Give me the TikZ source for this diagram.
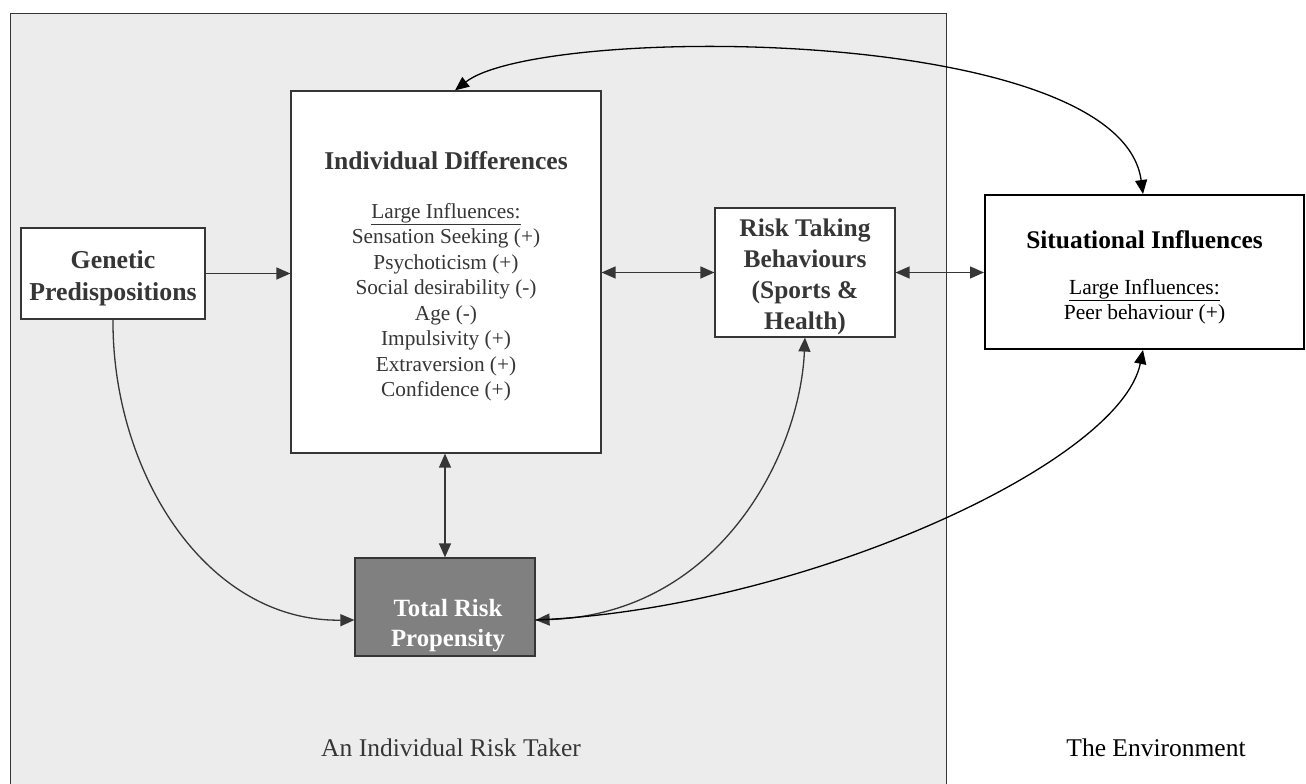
\documentclass[tikz,border=0pt]{standalone}
\usepackage{fontspec}
\setmainfont{Liberation Serif}
\usetikzlibrary{arrows.meta}
\definecolor{inkg}{HTML}{363636}
\definecolor{bgg}{HTML}{ECECEC}
\definecolor{totg}{HTML}{808080}
\tikzset{
  x=1pt,y=1pt,
  box/.style={draw=inkg, line width=1.2pt, fill=white, text=inkg, align=center, inner sep=0pt},
  tip/.style={-{Triangle[length=14pt,width=12pt]}},
  tips/.style={{Triangle[length=14pt,width=12pt]}-{Triangle[length=14pt,width=12pt]}},
  conn/.style={draw=inkg, line width=1.3pt, fill=none},
  label/.style={font=\fontsize{25.5}{30}\selectfont, text=inkg}
}
\begin{document}
\begin{tikzpicture}
\useasboundingbox (0,0) rectangle (1306,784);
\fill[white] (0,0) rectangle (1306,784);
\draw[inkg, line width=1pt, fill=bgg] (10,-5) rectangle (946,770);

\node[box, minimum width=184pt, minimum height=91pt] (gen) at (113,510.5) {};
\node[text=inkg, align=center, font=\fontsize{25.8}{32}\selectfont\bfseries] (genlbl) at (113,506) {Genetic\\Predispositions};

\node[box, minimum width=310pt, minimum height=362pt] (ind) at (446,512) {};
\node[text=inkg, align=center, font=\fontsize{21.3}{25.5}\selectfont] (indlbl) at (446,507.5)
  {{\fontsize{25.6}{30}\selectfont\bfseries Individual Differences}\\[23pt]
   \underline{Large Influences:}\\
   Sensation Seeking (+)\\
   Psychoticism (+)\\
   Social desirability (-)\\
   Age (-)\\
   Impulsivity (+)\\
   Extraversion (+)\\
   Confidence (+)};

\node[box, fill=totg, minimum width=180pt, minimum height=98pt] (tot) at (445,177) {};
\node[text=white, align=center, font=\fontsize{24.8}{30}\selectfont\bfseries] (totlbl) at (448,158) {Total Risk\\Propensity};

\node[box, minimum width=180pt, minimum height=129pt] (rtb) at (805,511.5) {};
\node[text=inkg, align=center, font=\fontsize{25.4}{31}\selectfont\bfseries] (rtblbl) at (805,507.5) {Risk Taking\\Behaviours\\(Sports \&\\Health)};

\node[box, draw=black, line width=2pt, minimum width=319pt, minimum height=154pt] (sit) at (1144.5,512) {};
\node[text=black, align=center, font=\fontsize{21.5}{25}\selectfont] (sitlbl) at (1144.5,507)
  {{\fontsize{25.4}{30}\selectfont\bfseries Situational Influences}\\[21pt]
   \underline{Large Influences:}\\
   Peer behaviour (+)};

\node[label] (lab1) at (451,36) {An Individual Risk Taker};
\node[label, text=black] (lab2) at (1156,36) {The Environment};

% straight connectors
\draw[conn, tip] (gen.east) -- (ind.west |- gen.east);
\draw[conn, tips] (ind.east |- rtb.west) -- (rtb.west);
\draw[conn, tips] (rtb.east) -- (sit.west |- rtb.east);
\draw[conn, tips] (ind.south -| tot.north) -- (tot.north);

% curved connectors
\coordinate (indtop) at ([xshift=9pt]ind.north);
\coordinate (sittop) at ([xshift=-1.5pt]sit.north);
\coordinate (sitbot) at ([xshift=-1.5pt]sit.south);
\coordinate (totr) at ([yshift=-13pt]tot.east);
\coordinate (totl) at ([yshift=-13pt]tot.west);
\draw[conn, tips, black] (indtop) .. controls (540,760) and (1120,760) .. (sittop);
\draw[conn, tip] (gen.south) .. controls (112,313) and (205,162) .. (totl);
\draw[conn, tips] (rtb.south) .. controls (800,330) and (720,170) .. (totr);
\draw[conn, tip, black] (totr) .. controls (800,175) and (1120,320) .. (sitbot);
\end{tikzpicture}
\end{document}
